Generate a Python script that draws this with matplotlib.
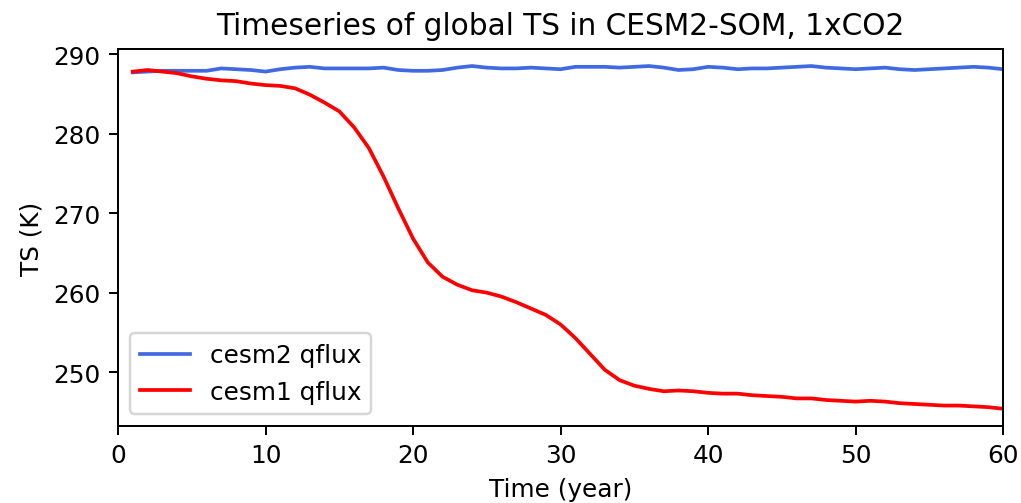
import numpy as np
import matplotlib
matplotlib.use("Agg")
import matplotlib.pyplot as plt

# model years
years = np.arange(1, 61)

# global mean TS (K)
ts_cesm2 = [287.7, 287.8, 287.9, 287.9, 287.9, 287.9, 288.2, 288.1, 288.0, 287.8,
            288.1, 288.3, 288.4, 288.2, 288.2, 288.2, 288.2, 288.3, 288.0, 287.9,
            287.9, 288.0, 288.3, 288.5, 288.3, 288.2, 288.2, 288.3, 288.2, 288.1,
            288.4, 288.4, 288.4, 288.3, 288.4, 288.5, 288.3, 288.0, 288.1, 288.4,
            288.3, 288.1, 288.2, 288.2, 288.3, 288.4, 288.5, 288.3, 288.2, 288.1,
            288.2, 288.3, 288.1, 288.0, 288.1, 288.2, 288.3, 288.4, 288.3, 288.1]

ts_cesm1 = [287.8, 288.0, 287.8, 287.6, 287.2, 286.9, 286.7, 286.6, 286.3, 286.1,
            286.0, 285.7, 284.9, 283.9, 282.8, 280.8, 278.2, 274.6, 270.6, 266.8,
            263.8, 262.0, 261.0, 260.3, 260.0, 259.5, 258.8, 258.0, 257.2, 256.0,
            254.3, 252.3, 250.3, 249.0, 248.3, 247.9, 247.6, 247.7, 247.6, 247.4,
            247.3, 247.3, 247.1, 247.0, 246.9, 246.7, 246.7, 246.5, 246.4, 246.3,
            246.4, 246.3, 246.1, 246.0, 245.9, 245.8, 245.8, 245.7, 245.6, 245.4]

dpi = 178
fig = plt.figure(figsize=(1022/dpi, 504/dpi), dpi=dpi)
ax = fig.add_axes([0.1155, 0.153, 0.866, 0.748])
ax.plot(years, ts_cesm2, color='royalblue', label='cesm2 qflux')
ax.plot(years, ts_cesm1, color='red', label='cesm1 qflux')
ax.set_xlim(0, 60)
ax.set_xlabel('Time (year)')
ax.set_ylabel('TS (K)')
ax.set_title('Timeseries of global TS in CESM2-SOM, 1xCO2')
ax.legend(loc='lower left')
fig.savefig('out.png', dpi=dpi)
